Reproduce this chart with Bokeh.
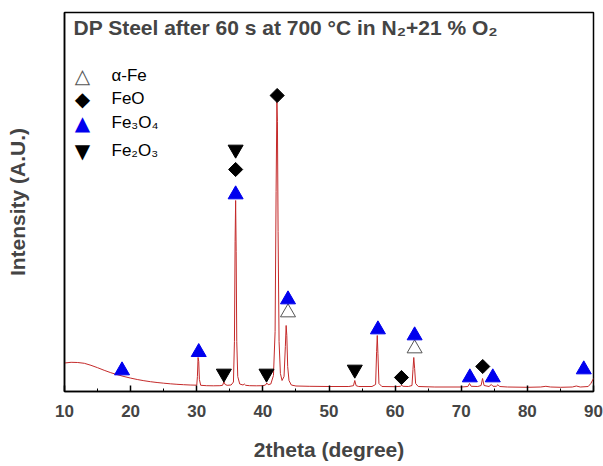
from bokeh.plotting import figure
from bokeh.models import Range1d, FixedTicker, Label
from bokeh.embed import file_html
from bokeh.resources import INLINE
import math

# XRD pattern
two_theta = [10.0, 11.0, 12.0, 13.0, 14.0, 15.0, 16.0, 17.0, 18.0, 19.0,
             20.0, 21.0, 22.0, 23.0, 24.0, 25.0, 26.0, 27.0, 28.0, 29.0,
             30.0, 30.1, 30.2, 30.3, 30.4, 30.6, 31.5, 32.5, 33.5, 33.9,
             34.1, 34.3, 34.6, 35.2, 35.55, 35.7, 35.8, 35.88, 35.96, 36.05,
             36.2, 36.5, 37.0, 37.2, 37.4, 38.0, 39.0, 40.0, 40.4, 40.6,
             40.8, 41.2, 41.6, 41.85, 42.0, 42.12, 42.2, 42.3, 42.45, 42.65,
             42.9, 43.2, 43.4, 43.52, 43.62, 43.75, 43.95, 44.3, 45.0, 47.0,
             50.0, 53.0, 53.7, 53.9, 54.1, 54.5, 56.5, 57.05, 57.2, 57.3,
             57.4, 57.55, 58.0, 60.0, 60.8, 61.0, 61.2, 62.0, 62.55, 62.7,
             62.82, 62.95, 63.1, 63.5, 66.0, 70.0, 71.0, 71.25, 71.5, 72.5,
             73.0, 73.22, 73.45, 74.2, 74.55, 74.8, 75.3, 75.55, 75.8, 77.0,
             80.0, 82.0, 82.8, 83.5, 85.0, 86.8, 87.4, 88.0, 89.2, 89.6, 90.0]
intensity = [285, 292, 290, 282, 262, 238, 212, 188, 168, 150,
             134, 120, 108, 98, 90, 83, 77, 72, 68, 65,
             63, 150, 340, 300, 120, 62, 58, 57, 58, 62,
             95, 70, 62, 65, 95, 500, 1500, 1910, 1400, 500,
             150, 75, 65, 75, 62, 58, 57, 58, 65, 85,
             68, 75, 160, 600, 2000, 2900, 2700, 1600, 500, 180,
             110, 150, 450, 660, 560, 250, 110, 65, 55, 52,
             50, 50, 58, 110, 58, 50, 50, 70, 400, 560,
             380, 80, 50, 48, 52, 62, 52, 50, 60, 220,
             340, 230, 80, 50, 45, 45, 50, 80, 52, 50,
             60, 130, 60, 50, 70, 52, 52, 68, 50, 45,
             42, 45, 52, 45, 42, 45, 55, 45, 50, 80, 130]

# phase markers
alpha_fe_x = [43.8, 62.95]
alpha_fe_y = [790, 430]
feo_x = [35.88, 42.16, 60.96, 73.25]
feo_y = [2220, 2960, 140, 250]
fe3o4_x = [18.7, 30.3, 35.88, 43.8, 57.4, 62.95, 71.3, 74.77, 88.53]
fe3o4_y = [210, 393, 1970, 920, 620, 560, 140, 140, 220]
fe2o3_x = [34.1, 35.88, 40.55, 53.9]
fe2o3_y = [180, 2420, 180, 220]

legend_labels = ["α-Fe", "FeO", "Fe₃O₄", "Fe₂O₃"]
legend_symbols = ["△", "◆", "▲", "▼"]
legend_colors = ["#555555", "black", "#0000ee", "black"]
x_ticks = [10, 20, 30, 40, 50, 60, 70, 80, 90]
x_minor = [15, 25, 35, 45, 55, 65, 75, 85]

FONT = "Liberation Sans"

p = figure(width=603, height=466, output_backend="svg", toolbar_location=None,
           x_range=Range1d(10, 90), y_range=Range1d(0, 3790),
           min_border_left=64, min_border_right=10, min_border_top=12, min_border_bottom=75)
p.grid.visible = False
p.outline_line_color = "black"
p.outline_line_width = 1.5
p.background_fill_color = "white"

p.line(two_theta, intensity, line_color="#c42a2a", line_width=1)

p.scatter(alpha_fe_x, alpha_fe_y, marker="triangle", size=15,
          fill_color="white", line_color="#555555", line_width=1)
p.scatter(feo_x, feo_y, marker="square", angle=math.pi / 4, size=10,
          fill_color="black", line_color="black")
p.scatter(fe3o4_x, fe3o4_y, marker="triangle", size=15,
          fill_color="#0000ee", line_color="#0000ee")
p.scatter(fe2o3_x, fe2o3_y, marker="inverted_triangle", size=15,
          fill_color="black", line_color="black")

# legend (screen units relative to the plot frame)
legend_y = [316, 293, 269, 241]
for lab, sym, col, ly in zip(legend_labels, legend_symbols, legend_colors, legend_y):
    p.add_layout(Label(x=18, y=ly, x_units="screen", y_units="screen", text=sym,
                       text_font="DejaVu Sans", text_font_size="20px", text_color=col,
                       text_align="center", text_baseline="middle"))
    p.add_layout(Label(x=47, y=ly, x_units="screen", y_units="screen", text=lab,
                       text_font=FONT, text_font_size="17px", text_color="black",
                       text_align="left", text_baseline="middle"))

xa = p.xaxis[0]
xa.ticker = FixedTicker(ticks=x_ticks, minor_ticks=x_minor)
xa.major_tick_in = 6
xa.major_tick_out = 0
xa.minor_tick_in = 3
xa.minor_tick_out = 0
xa.axis_line_width = 1.5
xa.major_tick_line_width = 1.5
xa.major_label_text_font = FONT
xa.major_label_text_font_size = "17px"
xa.major_label_text_font_style = "bold"
xa.major_label_standoff = 13
xa.axis_label = "2theta (degree)"
xa.axis_label_text_font = FONT
xa.axis_label_text_font_size = "21px"
xa.axis_label_text_font_style = "bold"
xa.axis_label_standoff = 18

ya = p.yaxis[0]
ya.ticker = FixedTicker(ticks=[])
ya.major_tick_out = 0
ya.minor_tick_out = 0
ya.axis_line_width = 1.5
ya.axis_label = "Intensity (A.U.)"
ya.axis_label_text_font = FONT
ya.axis_label_text_font_size = "21px"
ya.axis_label_text_font_style = "bold"
ya.axis_label_standoff = 36

p.add_layout(Label(x=9, y=364, x_units="screen", y_units="screen",
                   text="DP Steel after 60 s at 700 °C in N₂+21 %  O₂",
                   text_font=FONT, text_font_size="21px", text_font_style="bold",
                   text_baseline="alphabetic"))

open("out.html", "w").write(file_html(p, INLINE))
